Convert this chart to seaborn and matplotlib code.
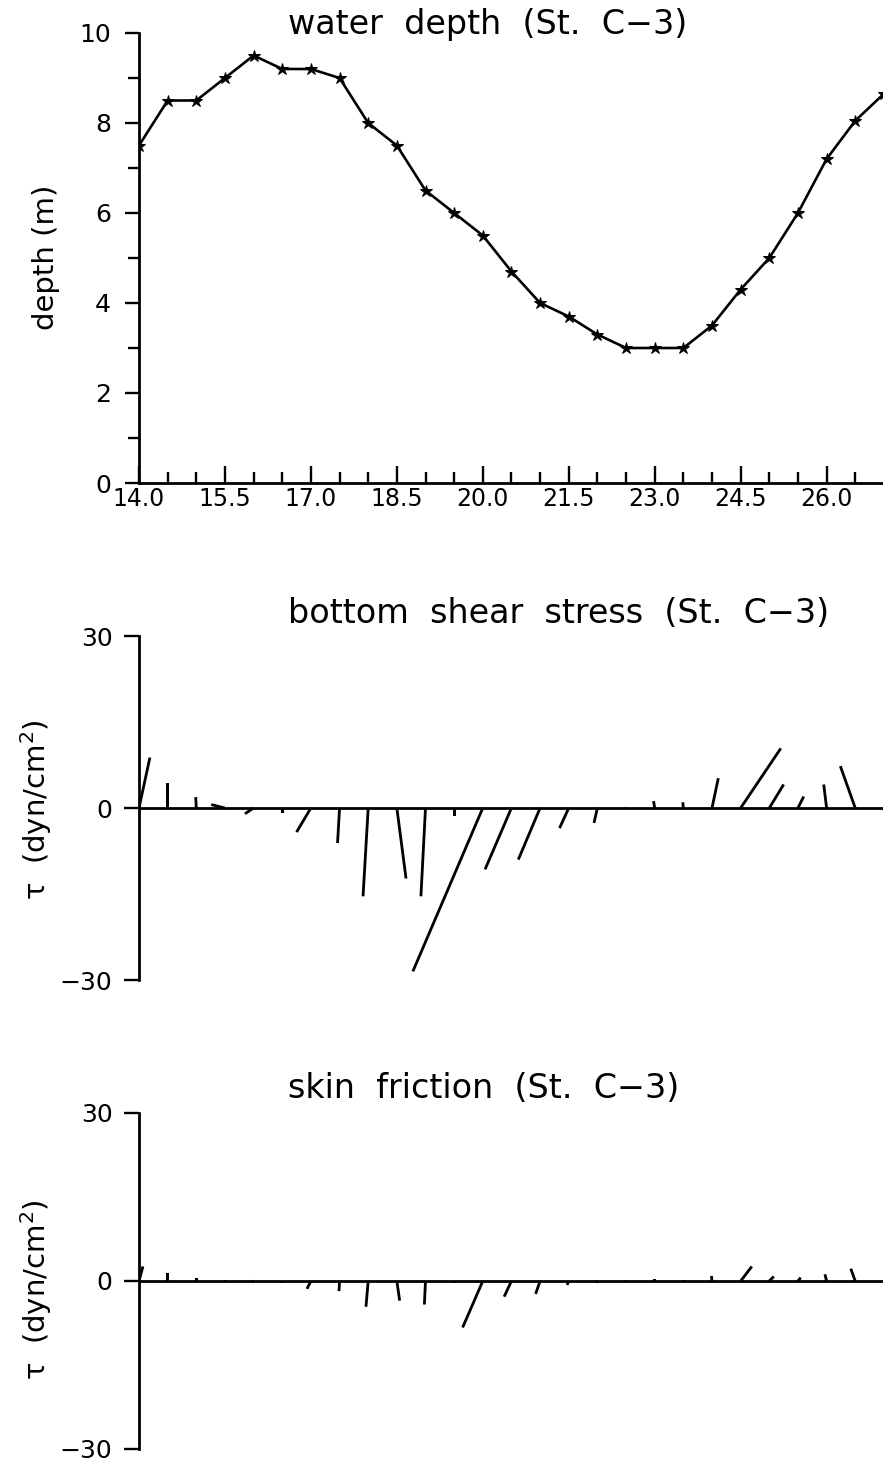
import numpy as np
import pandas as pd
import matplotlib
matplotlib.use("Agg")
import matplotlib.pyplot as plt
import seaborn as sns
from matplotlib.ticker import FixedLocator, FormatStrFormatter

# ---------------- data ----------------
hours = [14.0, 14.5, 15.0, 15.5, 16.0, 16.5, 17.0, 17.5, 18.0, 18.5, 19.0, 19.5,
         20.0, 20.5, 21.0, 21.5, 22.0, 22.5, 23.0, 23.5, 24.0, 24.5, 25.0, 25.5,
         26.0, 26.5, 27.0]
depth = [7.5, 8.5, 8.5, 9.0, 9.5, 9.2, 9.2, 9.0, 8.0, 7.5, 6.5, 6.0,
         5.5, 4.7, 4.0, 3.7, 3.3, 3.0, 3.0, 3.0, 3.5, 4.3, 5.0, 6.0,
         7.2, 8.05, 8.65]

stick_hours = [14.0, 14.5, 15.0, 15.5, 16.0, 16.5, 17.0, 17.5, 18.0, 18.5, 19.0, 19.5,
               20.0, 20.5, 21.0, 21.5, 22.0, 22.5, 23.0, 23.5, 24.0, 24.5, 25.0, 25.5,
               26.0, 26.5]
shear_u = [1.9, 0.0, -0.1, -2.4, -1.5, 0.0, -2.5, -0.35, -0.9, 1.6, -0.8, 0.0,
           -12.2, -4.6, -3.8, -1.6, -0.6, 0.0, -0.2, -0.1, 1.1, 7.0, 2.5, 1.0,
           -0.5, -2.6]
shear_v = [8.8, 4.4, 1.9, 0.6, -1.0, -0.8, -4.2, -6.1, -15.4, -12.3, -15.4, -1.4,
           -28.5, -10.7, -9.0, -3.5, -2.6, 0.1, 1.2, 1.0, 5.2, 10.4, 4.1, 2.0,
           4.1, 7.3]
skin_u = [0.7, 0.0, 0.0, 0.0, -0.3, 0.0, -0.7, -0.1, -0.4, 0.5, -0.2, 0.0,
          -3.6, -1.3, -0.8, -0.3, -0.2, 0.0, 0.0, 0.0, -0.1, 2.0, 0.8, 0.5,
          -0.3, -0.8]
skin_v = [2.6, 1.4, 0.5, 0.2, -0.2, -0.3, -1.4, -1.8, -4.6, -3.5, -4.2, -0.4,
          -8.3, -2.8, -2.3, -0.7, -0.3, 0.1, 0.3, 0.1, 0.9, 2.6, 0.8, 0.6,
          1.2, 2.2]

xtick_major = [14.0, 15.5, 17.0, 18.5, 20.0, 21.5, 23.0, 24.5, 26.0]
depth_yticks = [0, 2, 4, 6, 8, 10]
depth_yminor = [1, 3, 5, 7, 9]
tau_yticks = [-30, 0, 30]

titles = ["water  depth  (St.  C\u22123)",
          "bottom  shear  stress  (St.  C\u22123)",
          "skin  friction  (St.  C\u22123)"]

# ---------------- style ----------------
sns.set_style("ticks")
plt.rcParams["font.family"] = ["DejaVu Sans"]
plt.rcParams["axes.linewidth"] = 2.0
plt.rcParams["axes.edgecolor"] = "black"
plt.rcParams["text.color"] = "black"
plt.rcParams["xtick.color"] = "black"
plt.rcParams["ytick.color"] = "black"
plt.rcParams["xtick.labelcolor"] = "black"
plt.rcParams["ytick.labelcolor"] = "black"

W, H = 883, 1466
fig = plt.figure(figsize=(W / 100, H / 100), dpi=100)

def fx(px):
    return px / W

def fy(py):
    return 1 - py / H

XL, XR = 139, 883
xlim = (14.0, 14.0 + (XR - XL) / 57.3)
TICKFS = 18

# ---------------- top panel ----------------
ax1 = fig.add_axes([fx(XL), fy(483), fx(XR - XL), (483 - 33) / H])
df = pd.DataFrame({"hour": hours, "depth": depth})
sns.lineplot(data=df, x="hour", y="depth", ax=ax1, color="black", lw=1.9,
             marker="*", markersize=9, markeredgecolor="black", sort=False)
ax1.set_xlim(*xlim)
ax1.set_ylim(0, 10)
ax1.spines["top"].set_visible(False)
ax1.spines["right"].set_visible(False)
ax1.xaxis.set_major_locator(FixedLocator(xtick_major))
ax1.xaxis.set_minor_locator(FixedLocator(hours))
ax1.xaxis.set_major_formatter(FormatStrFormatter("%.1f"))
ax1.yaxis.set_major_locator(FixedLocator(depth_yticks))
ax1.yaxis.set_minor_locator(FixedLocator(depth_yminor))
ax1.tick_params(axis="x", which="major", direction="in", length=12, width=1.7,
                labelsize=17, pad=3)
ax1.tick_params(axis="x", which="minor", direction="in", length=8, width=1.7)
ax1.tick_params(axis="y", which="major", direction="out", length=10, width=1.7,
                labelsize=TICKFS, pad=10)
ax1.tick_params(axis="y", which="minor", direction="out", length=8, width=1.7)
ax1.set_xlabel("")
ax1.set_ylabel("")
fig.text(fx(46), fy(257), "depth (m)", rotation=90, ha="center", va="center",
         fontsize=21)

# ---------------- stick panels ----------------
def stick_panel(top, bottom, u, v):
    ax = fig.add_axes([fx(XL), fy(bottom), fx(XR - XL), (bottom - top) / H])
    ax.axhline(0, color="black", lw=2.0, zorder=1)
    ax.quiver(stick_hours, np.zeros(len(stick_hours)), u, v,
              angles="uv", scale_units="y", scale=1, pivot="tail",
              units="dots", width=2.8, headwidth=0, headlength=0,
              headaxislength=0, minlength=0, color="black", zorder=2)
    ax.set_xlim(*xlim)
    ax.set_ylim(-30, 30)
    for s in ["top", "right", "bottom"]:
        ax.spines[s].set_visible(False)
    ax.set_xticks([])
    ax.yaxis.set_major_locator(FixedLocator(tau_yticks))
    ax.tick_params(axis="y", direction="out", length=11, width=1.7,
                   labelsize=TICKFS, pad=8)
    return ax

ax2 = stick_panel(636, 980, shear_u, shear_v)
ax3 = stick_panel(1113, 1449, skin_u, skin_v)

fig.text(fx(36), fy(810), "\u03c4  (dyn/cm$^2$)", rotation=90, ha="center",
         va="center", fontsize=21)
fig.text(fx(36), fy(1290), "\u03c4  (dyn/cm$^2$)", rotation=90, ha="center",
         va="center", fontsize=21)

# ---------------- titles ----------------
fig.text(fx(288), fy(34), titles[0], ha="left", va="baseline", fontsize=24)
fig.text(fx(288), fy(623), titles[1], ha="left", va="baseline", fontsize=24)
fig.text(fx(288), fy(1098), titles[2], ha="left", va="baseline", fontsize=24)

fig.savefig("out.png", dpi=100)
